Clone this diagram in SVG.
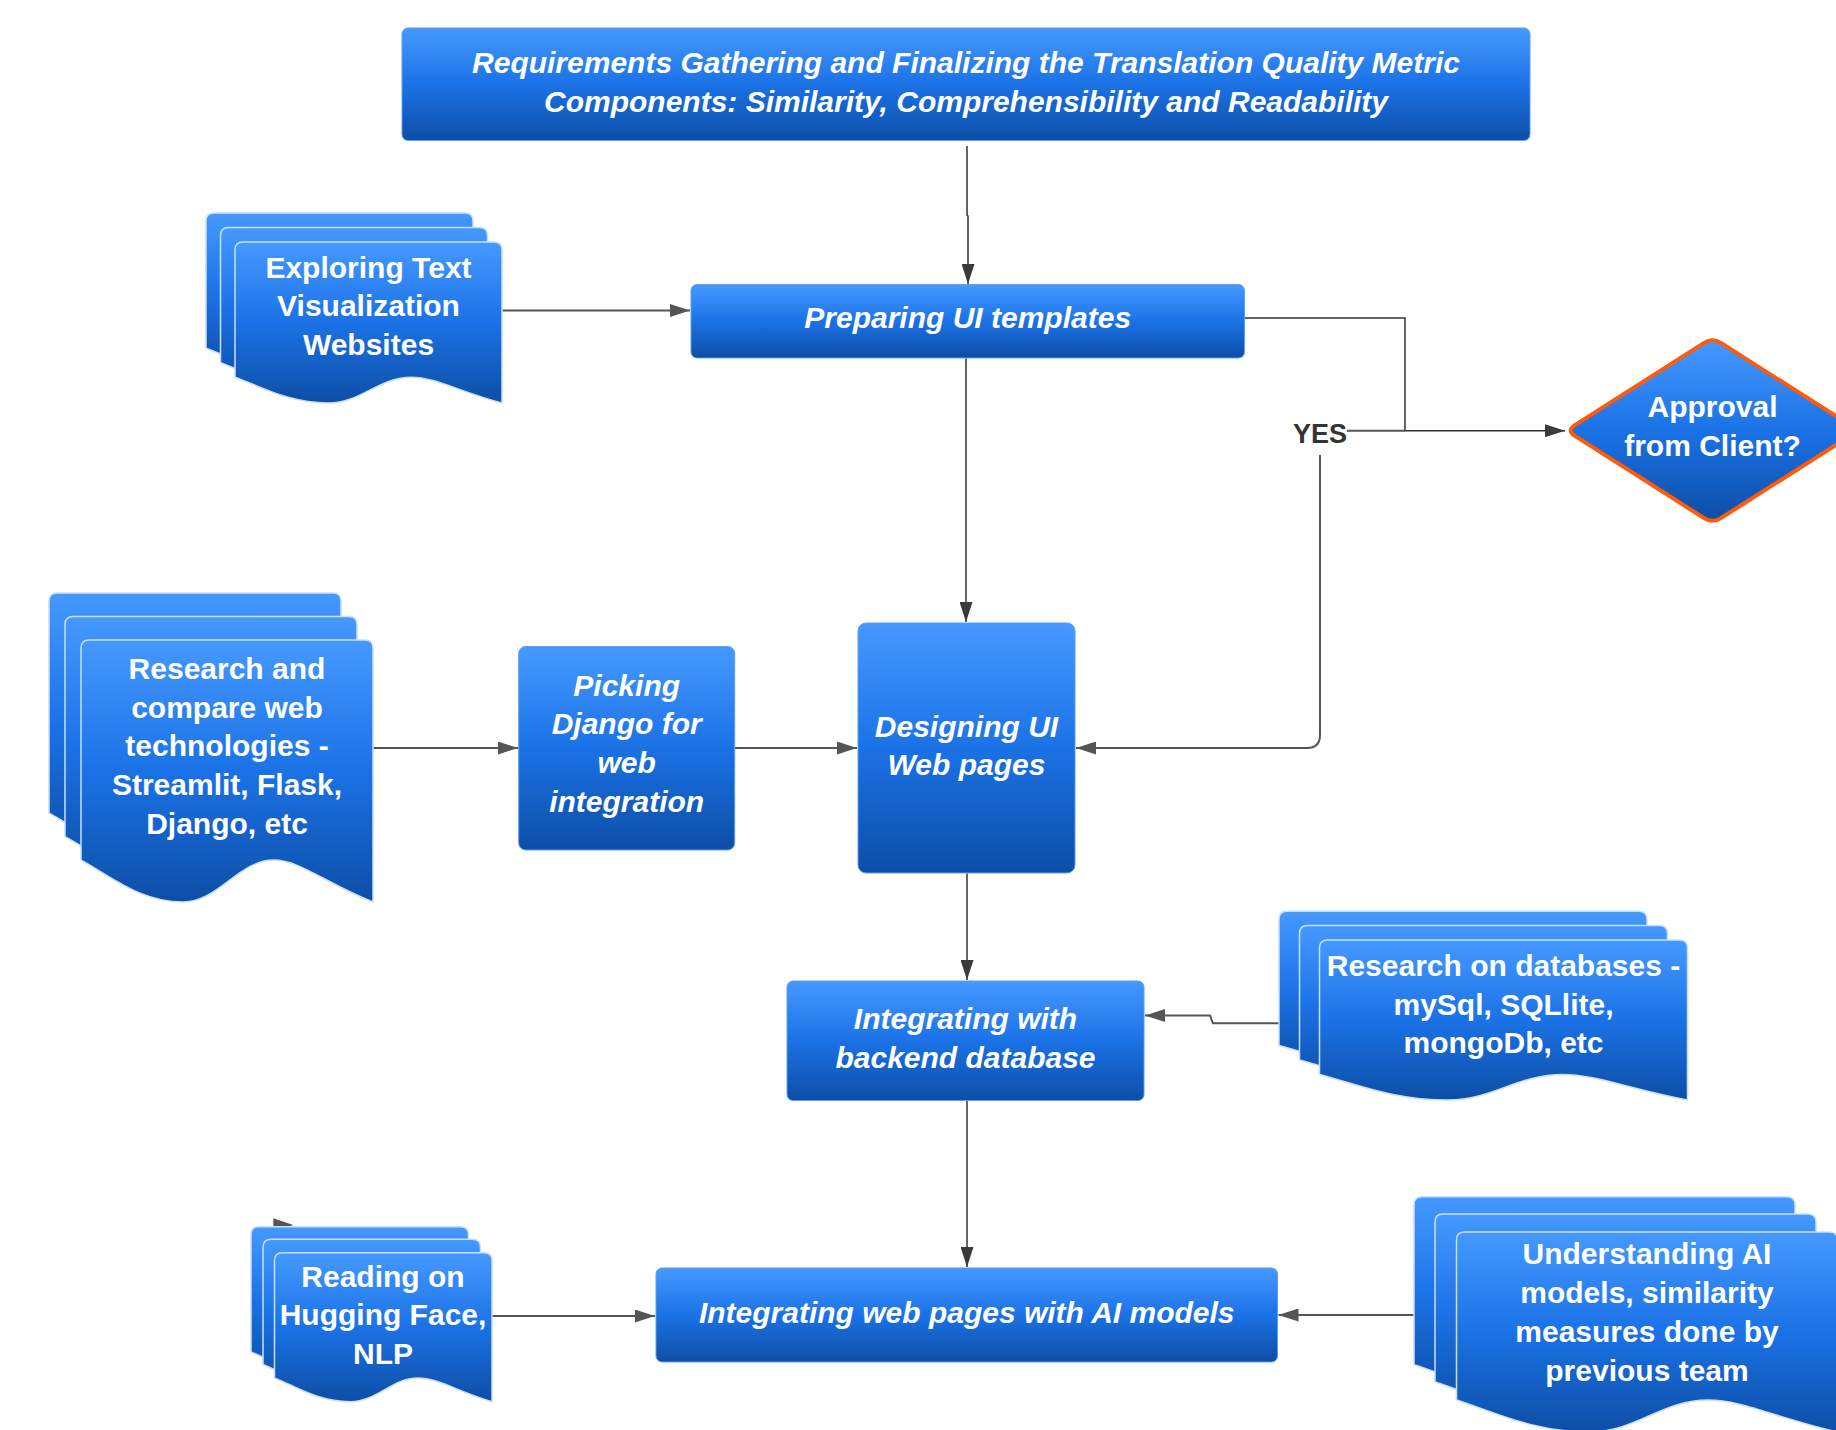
<svg xmlns="http://www.w3.org/2000/svg" xmlns:xlink="http://www.w3.org/1999/xlink" width="1836" height="1430" viewBox="0 0 1836 1430">
<defs>
<linearGradient id="blue" x1="0" y1="0" x2="0" y2="1">
<stop offset="0" stop-color="#4599ff"/>
<stop offset="0.5" stop-color="#1b72e6"/>
<stop offset="1" stop-color="#0d4ea6"/>
</linearGradient>
<marker id="arr" markerUnits="userSpaceOnUse" markerWidth="20" markerHeight="13" refX="20" refY="6.5" orient="auto">
<path d="M0,0 L20,6.5 L0,13 Z" fill="#3a3a3a"/>
</marker>
<marker id="arrG" markerUnits="userSpaceOnUse" markerWidth="20" markerHeight="13" refX="20" refY="6.5" orient="auto">
<path d="M0,0 L20,6.5 L0,13 Z" fill="#555"/>
</marker>
<style>
.box{fill:url(#blue);stroke:#5a9ff0;stroke-width:1}
.page{fill:url(#blue);stroke:#c9e0fd;stroke-width:1.5}
.dia{fill:url(#blue);stroke:#ff5a0a;stroke-width:4;stroke-linejoin:round}
.t{font-family:"Liberation Sans",Arial,sans-serif;font-weight:bold;font-size:30px;fill:#ffffff;text-anchor:middle}
.i{font-style:italic}
.lbl{font-family:"Liberation Sans",Arial,sans-serif;font-weight:bold;font-size:27px;fill:#333;text-anchor:middle}
.c{fill:none;stroke:#333;stroke-width:1.5}
.g{fill:none;stroke:#555;stroke-width:2}
</style>
</defs>
<rect width="1836" height="1430" fill="#ffffff"/>

<g id="connectors">
<path class="c" d="M967,146 V215 L968,216 V284" marker-end="url(#arr)"/>
<path class="g" d="M502,310.5 H690" marker-end="url(#arrG)"/>
<path class="c" d="M966,358.5 V622" marker-end="url(#arr)"/>
<path class="c" d="M1244.6,318 H1405 V430.7 H1565" stroke-width="1.8" marker-end="url(#arr)"/>
<path class="g" d="M1347,430.7 H1405" stroke="#888" stroke-width="1.6"/>
<path class="g" d="M1320,455 V735 Q1320,748 1307,748 H1076" stroke-width="1.8" marker-end="url(#arrG)"/>
<path class="g" d="M373,748 H518" marker-end="url(#arrG)"/>
<path class="g" d="M735,748 H857" marker-end="url(#arrG)"/>
<path class="c" d="M967,873.5 V980" marker-end="url(#arr)"/>
<path class="g" d="M1279,1023.3 H1213 L1210,1015.5 H1145" marker-end="url(#arrG)"/>
<path class="c" d="M967,1100.6 V1267" marker-end="url(#arr)"/>
<path class="g" d="M492,1316 H655" marker-end="url(#arrG)"/>
<path class="g" d="M1414,1315 H1278.5" marker-end="url(#arrG)"/>
<polygon points="273.3,1218.3 293.3,1225 273.3,1231.7" fill="#555"/>
</g>

<g id="node-requirements">
<rect class="box" x="402" y="28" width="1128" height="112.5" rx="6"/>
<text class="t i" x="966" y="73">Requirements Gathering and Finalizing the Translation Quality Metric</text>
<text class="t i" x="966" y="112">Components: Similarity, Comprehensibility and Readability</text>
</g>

<g id="node-preparing">
<rect class="box" x="691" y="284.5" width="553.5" height="73.5" rx="6"/>
<text class="t i" x="967.7" y="328">Preparing UI templates</text>
</g>

<g id="node-exploring">
<path class="page" transform="translate(-29,-29)" d="M243,242 H494 Q502,242 502,250 V403 C459.3,391.7 435.3,377.2 411.2,377.2 C379.2,377.2 360.5,403 328.5,403 C288.4,403 261.7,386.9 235,377.2 V250 Q235,242 243,242 Z"/>
<path class="page" transform="translate(-14.5,-14.5)" d="M243,242 H494 Q502,242 502,250 V403 C459.3,391.7 435.3,377.2 411.2,377.2 C379.2,377.2 360.5,403 328.5,403 C288.4,403 261.7,386.9 235,377.2 V250 Q235,242 243,242 Z"/>
<path class="page" d="M243,242 H494 Q502,242 502,250 V403 C459.3,391.7 435.3,377.2 411.2,377.2 C379.2,377.2 360.5,403 328.5,403 C288.4,403 261.7,386.9 235,377.2 V250 Q235,242 243,242 Z"/>
<text class="t" x="368.5" y="277.5">Exploring Text</text>
<text class="t" x="368.5" y="316">Visualization</text>
<text class="t" x="368.5" y="354.5">Websites</text>
</g>

<g id="node-approval">
<path class="dia" d="M1574.9,425.1 L1704.1,342.9 Q1712.5,337.5 1720.9,342.9 L1850.1,425.1 Q1858.5,430.5 1850.1,435.9 L1720.9,518.1 Q1712.5,523.5 1704.1,518.1 L1574.9,435.9 Q1566.5,430.5 1574.9,425.1 Z"/>
<text class="t" x="1712.5" y="417">Approval</text>
<text class="t" x="1712.5" y="455.5">from Client?</text>
</g>

<g id="label-yes">
<text class="lbl" x="1320" y="443">YES</text>
</g>

<g id="node-research-web">
<path class="page" transform="translate(-32,-47)" d="M89,640 H365 Q373,640 373,648 V902 C326.3,883.7 300,860.1 273.7,860.1 C238.7,860.1 218.2,902 183.2,902 C139.4,902 110.2,875.8 81,860.1 V648 Q81,640 89,640 Z"/>
<path class="page" transform="translate(-16,-23.5)" d="M89,640 H365 Q373,640 373,648 V902 C326.3,883.7 300,860.1 273.7,860.1 C238.7,860.1 218.2,902 183.2,902 C139.4,902 110.2,875.8 81,860.1 V648 Q81,640 89,640 Z"/>
<path class="page" d="M89,640 H365 Q373,640 373,648 V902 C326.3,883.7 300,860.1 273.7,860.1 C238.7,860.1 218.2,902 183.2,902 C139.4,902 110.2,875.8 81,860.1 V648 Q81,640 89,640 Z"/>
<text class="t" x="227" y="679">Research and</text>
<text class="t" x="227" y="717.7">compare web</text>
<text class="t" x="227" y="756.4">technologies -</text>
<text class="t" x="227" y="795">Streamlit, Flask,</text>
<text class="t" x="227" y="833.6">Django, etc</text>
</g>

<g id="node-picking">
<rect class="box" x="518.7" y="646.5" width="216" height="203.5" rx="7"/>
<text class="t i" x="626.7" y="695.5">Picking</text>
<text class="t i" x="626.7" y="734">Django for</text>
<text class="t i" x="626.7" y="773">web</text>
<text class="t i" x="626.7" y="811.5">integration</text>
</g>

<g id="node-designing">
<rect class="box" x="858" y="623" width="217" height="250" rx="8"/>
<text class="t i" x="966.5" y="736.5">Designing UI</text>
<text class="t i" x="966.5" y="775">Web pages</text>
</g>

<g id="node-backend">
<rect class="box" x="787" y="981" width="357" height="119.5" rx="6"/>
<text class="t i" x="965.5" y="1029">Integrating with</text>
<text class="t i" x="965.5" y="1068">backend database</text>
</g>

<g id="node-databases">
<path class="page" transform="translate(-40.5,-28.8)" d="M1327.5,940 H1679.5 Q1687.5,940 1687.5,948 V1100 C1628.6,1088.8 1595.5,1074.4 1562.4,1074.4 C1518.2,1074.4 1492.5,1100 1448.3,1100 C1393.1,1100 1356.3,1084 1319.5,1074.4 V948 Q1319.5,940 1327.5,940 Z"/>
<path class="page" transform="translate(-20,-14.5)" d="M1327.5,940 H1679.5 Q1687.5,940 1687.5,948 V1100 C1628.6,1088.8 1595.5,1074.4 1562.4,1074.4 C1518.2,1074.4 1492.5,1100 1448.3,1100 C1393.1,1100 1356.3,1084 1319.5,1074.4 V948 Q1319.5,940 1327.5,940 Z"/>
<path class="page" d="M1327.5,940 H1679.5 Q1687.5,940 1687.5,948 V1100 C1628.6,1088.8 1595.5,1074.4 1562.4,1074.4 C1518.2,1074.4 1492.5,1100 1448.3,1100 C1393.1,1100 1356.3,1084 1319.5,1074.4 V948 Q1319.5,940 1327.5,940 Z"/>
<text class="t" x="1503.5" y="975.5">Research on databases -</text>
<text class="t" x="1503.5" y="1014.5">mySql, SQLlite,</text>
<text class="t" x="1503.5" y="1053">mongoDb, etc</text>
</g>

<g id="node-ai">
<rect class="box" x="656" y="1268" width="621.5" height="94" rx="6"/>
<text class="t i" x="966.7" y="1323">Integrating web pages with AI models</text>
</g>

<g id="node-reading">
<path class="page" transform="translate(-23.5,-26)" d="M282.5,1252.7 H484 Q492,1252.7 492,1260.7 V1401.7 C457.2,1391.3 437.6,1377.9 418.1,1377.9 C392,1377.9 376.7,1401.7 350.6,1401.7 C318,1401.7 296.3,1386.8 274.5,1377.9 V1260.7 Q274.5,1252.7 282.5,1252.7 Z"/>
<path class="page" transform="translate(-11.5,-13.4)" d="M282.5,1252.7 H484 Q492,1252.7 492,1260.7 V1401.7 C457.2,1391.3 437.6,1377.9 418.1,1377.9 C392,1377.9 376.7,1401.7 350.6,1401.7 C318,1401.7 296.3,1386.8 274.5,1377.9 V1260.7 Q274.5,1252.7 282.5,1252.7 Z"/>
<path class="page" d="M282.5,1252.7 H484 Q492,1252.7 492,1260.7 V1401.7 C457.2,1391.3 437.6,1377.9 418.1,1377.9 C392,1377.9 376.7,1401.7 350.6,1401.7 C318,1401.7 296.3,1386.8 274.5,1377.9 V1260.7 Q274.5,1252.7 282.5,1252.7 Z"/>
<text class="t" x="383" y="1286.5">Reading on</text>
<text class="t" x="383" y="1325">Hugging Face,</text>
<text class="t" x="383" y="1363.5">NLP</text>
</g>

<g id="node-understanding">
<path class="page" transform="translate(-42.5,-35.3)" d="M1464.5,1232 H1829.5 Q1837.5,1232 1837.5,1240 V1432 C1776.5,1418 1742.3,1400 1708,1400 C1662.2,1400 1635.6,1432 1589.9,1432 C1532.7,1432 1494.6,1412 1456.5,1400 V1240 Q1456.5,1232 1464.5,1232 Z"/>
<path class="page" transform="translate(-21.5,-18)" d="M1464.5,1232 H1829.5 Q1837.5,1232 1837.5,1240 V1432 C1776.5,1418 1742.3,1400 1708,1400 C1662.2,1400 1635.6,1432 1589.9,1432 C1532.7,1432 1494.6,1412 1456.5,1400 V1240 Q1456.5,1232 1464.5,1232 Z"/>
<path class="page" d="M1464.5,1232 H1829.5 Q1837.5,1232 1837.5,1240 V1432 C1776.5,1418 1742.3,1400 1708,1400 C1662.2,1400 1635.6,1432 1589.9,1432 C1532.7,1432 1494.6,1412 1456.5,1400 V1240 Q1456.5,1232 1464.5,1232 Z"/>
<text class="t" x="1647" y="1264">Understanding AI</text>
<text class="t" x="1647" y="1302.7">models, similarity</text>
<text class="t" x="1647" y="1342">measures done by</text>
<text class="t" x="1647" y="1380.5">previous team</text>
</g>
</svg>
